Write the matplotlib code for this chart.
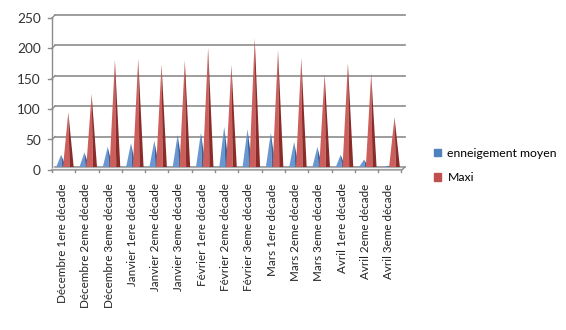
import matplotlib.pyplot as plt
import matplotlib.transforms as mtransforms
from matplotlib.patches import Patch

# Data
categories = ['Décembre 1ere décade', 'Décembre 2eme décade', 'Décembre 3eme décade',
              'Janvier 1ere décade', 'Janvier 2eme décade', 'Janvier 3eme décade',
              'Février 1ere décade', 'Février 2eme décade', 'Février 3eme décade',
              'Mars 1ere décade', 'Mars 2eme décade', 'Mars 3eme décade',
              'Avril 1ere décade', 'Avril 2eme décade', 'Avril 3eme décade']
moyen = [20, 24, 33, 39, 43, 53, 56, 66, 62, 56, 41, 33, 20, 12, 2]
maxi = [90, 120, 176, 178, 169, 175, 196, 168, 212, 192, 179, 153, 171, 154, 82]
yticks = [0, 50, 100, 150, 200, 250]

blue, blue_light, blue_dark = '#4F81BD', '#6A97D2', '#34629C'
red, red_light, red_dark = '#C0504D', '#CC5E5B', '#8A2C29'
grid_col = '#8C8C8C'

plt.rcParams['font.family'] = ['Lato', 'DejaVu Sans']

fig = plt.figure(figsize=(5.66, 3.30), dpi=100)
ax = fig.add_axes([45 / 566, 1 - 175 / 330, 365 / 566, 165 / 330])
ax.set_xlim(-0.751, 14.915)
ax.set_ylim(-13.2, 258.2)
for s in ax.spines.values():
    s.set_visible(False)

# 3D depth offset (front vs back wall)
dx, dy = -0.13, -4.8
x0, x1 = -0.322, 14.70

# back wall gridlines with the short depth segment on the left
for v in yticks:
    ax.plot([x0, x1], [v, v], color=grid_col, lw=1.2, zorder=1)
    ax.plot([x0 + dx, x0], [v + dy, v], color=grid_col, lw=1.0, zorder=1)
    ax.plot([x0 + dx - 0.17, x0 + dx], [v + dy, v + dy], color=grid_col, lw=1.0, zorder=1)

# vertical axis line (front)
ax.plot([x0 + dx, x0 + dx], [dy, 250 + dy], color=grid_col, lw=1.0, zorder=1)

# floor
ax.fill([x0, x1, x1 + dx, x0 + dx], [0, 0, dy, dy], color='#F2F2F2', zorder=1)
ax.plot([x0 + dx, x1 + dx, x1, x0], [dy, dy, 0, 0], color=grid_col, lw=1.0, zorder=1)
for k in range(len(categories) + 1):
    ax.plot([x0 + dx + k, x0 + dx + k], [dy, dy - 3.5], color=grid_col, lw=1.0, zorder=1)

# cones
def cone(xc, h, w, light, dark):
    ax.fill([xc - w / 2, xc + w * 0.12, xc], [0, 0, h], color=light, lw=0, zorder=3)
    ax.fill([xc + w * 0.12, xc + w / 2, xc], [0, 0, h], color=dark, lw=0, zorder=3)

for i, (b, r) in enumerate(zip(moyen, maxi)):
    cone(i - 0.06, b, 0.42, blue_light, blue_dark)
    cone(i + 0.25, r, 0.46, red_light, red_dark)

# tick labels
ax.set_yticks(yticks)
ax.set_yticklabels([str(v) for v in yticks], fontsize=9.8, color='#333333')
ax.set_xticks(range(len(categories)))
ax.set_xticklabels(categories, rotation=90, fontsize=8.4, color='#222222')
ax.tick_params(axis='both', length=0)
ax.tick_params(axis='y', pad=3)
ax.tick_params(axis='x', pad=6)
off = mtransforms.ScaledTranslation(0, -3 / 100, fig.dpi_scale_trans)
for lab in ax.get_yticklabels():
    lab.set_transform(lab.get_transform() + off)

# legend
handles = [Patch(color=blue, label='enneigement moyen'), Patch(color=red, label='Maxi')]
fig.legend(handles=handles, loc='center left', bbox_to_anchor=(434 / 566, 1 - 165.5 / 330),
           frameon=False, fontsize=8.8, handlelength=0.6, handleheight=0.6,
           handletextpad=0.5, labelspacing=1.1, borderpad=0, borderaxespad=0)

fig.savefig('out.png', dpi=100)
